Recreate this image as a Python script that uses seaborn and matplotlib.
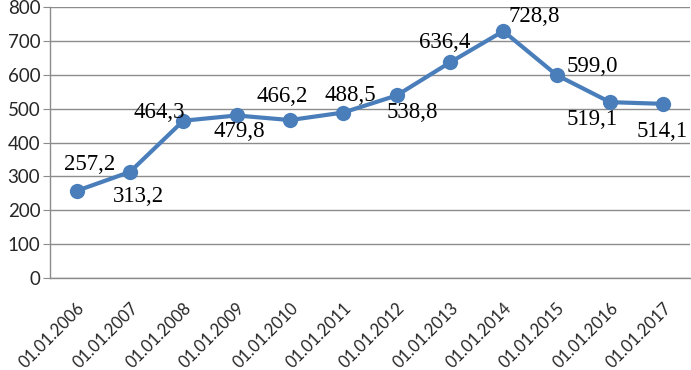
import numpy as np
import matplotlib
matplotlib.use("Agg")
import matplotlib.pyplot as plt
import matplotlib.transforms as mtransforms
import seaborn as sns

# данные
dates = ["01.01.2006", "01.01.2007", "01.01.2008", "01.01.2009", "01.01.2010", "01.01.2011",
         "01.01.2012", "01.01.2013", "01.01.2014", "01.01.2015", "01.01.2016", "01.01.2017"]
values = [257.2, 313.2, 464.3, 479.8, 466.2, 488.5, 538.8, 636.4, 728.8, 599.0, 519.1, 514.1]
# смещения подписей (пиксели)
label_offsets = [(13, 26), (8, -25), (-24, 8), (3, -16), (-8, 24), (7, 17),
                 (16, -17), (-5, 20), (31, 15), (36, 9), (-18, -17), (-1, -28)]

sns.set_style("white")
plt.rcParams["font.family"] = ["Lato", "DejaVu Sans"]

fig = plt.figure(figsize=(6.91, 3.70), dpi=100)
ax = fig.add_axes([50 / 691, 1 - 278 / 370, 640 / 691, 271 / 370])

x = np.arange(len(dates))
sns.lineplot(x=x, y=values, ax=ax, color="#4a7ebb", linewidth=3, marker="o",
             markersize=11, markeredgewidth=0, zorder=3)

for xi, v, (dx, dy) in zip(x, values, label_offsets):
    ax.annotate(f"{v:.1f}".replace(".", ","), (xi, v), xytext=(dx, dy),
                textcoords="offset pixels", ha="center", va="center",
                fontsize=16.5, family="Liberation Serif", color="black", zorder=4)

ax.set_xlim(-0.5, len(dates) - 0.5)
ax.set_ylim(0, 800)
ax.set_yticks(range(0, 801, 100))
ax.grid(axis="y", color="#8c8c8c", linewidth=1)
ax.set_axisbelow(True)

ax.set_xticks(x)
ax.set_xticklabels(dates, rotation=45, ha="right", rotation_mode="anchor", fontsize=12)
shift = mtransforms.ScaledTranslation(-16 / 100, 0, fig.dpi_scale_trans)
for lbl in ax.get_xticklabels():
    lbl.set_transform(lbl.get_transform() + shift)
ax.set_xticks(np.arange(-0.5, len(dates)), minor=True)
ax.tick_params(axis="x", which="major", length=0, pad=16)
ax.tick_params(axis="x", which="minor", length=5, color="#8c8c8c", direction="out")
ax.tick_params(axis="y", length=5, color="#8c8c8c", labelsize=13.5, pad=2, direction="out")
ax.tick_params(bottom=True, left=True)
ax.tick_params(axis="x", which="major", bottom=False)

for side in ["top", "right"]:
    ax.spines[side].set_visible(False)
for side in ["left", "bottom"]:
    ax.spines[side].set_color("#8c8c8c")
    ax.spines[side].set_linewidth(1)

fig.savefig("out.png", dpi=100)
